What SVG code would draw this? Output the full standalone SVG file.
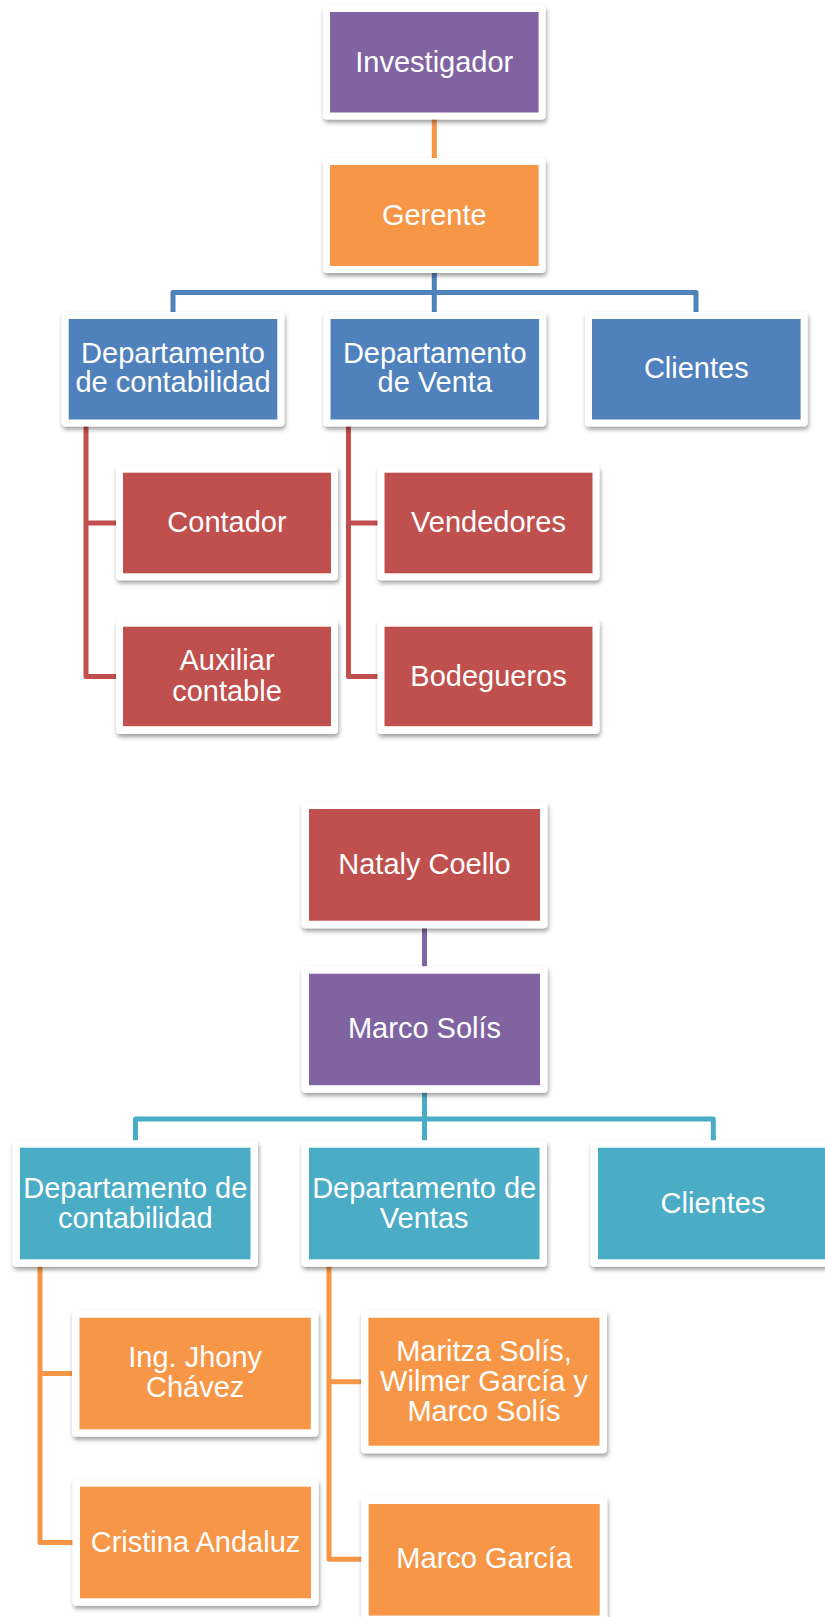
<svg xmlns="http://www.w3.org/2000/svg" width="825" height="1617" viewBox="0 0 825 1617">
  <defs>
    <filter id="sh" x="-10%" y="-10%" width="120%" height="130%">
      <feDropShadow dx="1" dy="3" stdDeviation="2.2" flood-color="#000" flood-opacity="0.38"/>
    </filter>
    <style>
      .frame { fill: #ffffff; filter: url(#sh); }
      .t { font-family: "Liberation Sans", Arial, sans-serif; font-size: 29px; fill: #ffffff; text-anchor: middle; }
      .purple { fill: #8064A2; }
      .orange { fill: #F79646; }
      .blue { fill: #4F81BD; }
      .red { fill: #C0504D; }
      .teal { fill: #4BACC6; }
      .c { fill: none; stroke-width: 5; stroke-linejoin: round; stroke-linecap: butt; }
    </style>
  </defs>
  <rect width="825" height="1617" fill="#ffffff"/>

  <!-- connectors -->
  <g id="connectors">
    <!-- upper chart -->
    <path class="c" stroke="#F79646" d="M434.3 112 V165"/>
    <path class="c" stroke="#4F81BD" d="M434.3 266 V319 M173 319 V292.5 H696 V319"/>
    <path class="c" stroke="#C0504D" d="M86 419 V676.4 H123 M86 523 H123"/>
    <path class="c" stroke="#C0504D" d="M348.5 419 V676.4 H384.5 M348.5 523 H384.5"/>
    <!-- lower chart -->
    <path class="c" stroke="#8064A2" d="M424.5 920 V974"/>
    <path class="c" stroke="#4BACC6" d="M424.5 1085 V1148 M135.5 1148 V1119 H713.3 V1148"/>
    <path class="c" stroke="#F79646" d="M40 1259 V1542.5 H80 M40 1373.5 H80"/>
    <path class="c" stroke="#F79646" d="M329 1259 V1559.3 H369 M329 1381.7 H369"/>
  </g>

  <!-- upper chart nodes -->
  <g id="investigador">
    <rect class="frame" x="323" y="5" width="222.6" height="114.5" rx="4"/>
    <rect class="purple" x="330" y="12" width="208.6" height="100.5"/>
    <text class="t" x="434.3" y="71.5">Investigador</text>
  </g>
  <g id="gerente">
    <rect class="frame" x="323" y="158" width="222.6" height="115" rx="4"/>
    <rect class="orange" x="330" y="165" width="208.6" height="101"/>
    <text class="t" x="434.3" y="224.5">Gerente</text>
  </g>
  <g id="dep-contabilidad">
    <rect class="frame" x="61.7" y="312" width="222.6" height="114.5" rx="4"/>
    <rect class="blue" x="68.7" y="319" width="208.6" height="100.5"/>
    <text class="t" x="173" y="363.3">Departamento</text>
    <text class="t" x="173" y="392.3">de contabilidad</text>
  </g>
  <g id="dep-venta">
    <rect class="frame" x="323.5" y="312" width="222.6" height="114.5" rx="4"/>
    <rect class="blue" x="330.5" y="319" width="208.6" height="100.5"/>
    <text class="t" x="434.8" y="363.3">Departamento</text>
    <text class="t" x="434.8" y="392.3">de Venta</text>
  </g>
  <g id="clientes">
    <rect class="frame" x="585" y="312" width="222.6" height="114.5" rx="4"/>
    <rect class="blue" x="592" y="319" width="208.6" height="100.5"/>
    <text class="t" x="696.3" y="378">Clientes</text>
  </g>
  <g id="contador">
    <rect class="frame" x="116" y="465.7" width="222" height="114.6" rx="4"/>
    <rect class="red" x="123" y="472.7" width="208" height="100.6"/>
    <text class="t" x="227" y="532.3">Contador</text>
  </g>
  <g id="auxiliar">
    <rect class="frame" x="116" y="619.7" width="222" height="114.3" rx="4"/>
    <rect class="red" x="123" y="626.7" width="208" height="99.5"/>
    <text class="t" x="227" y="669.8">Auxiliar</text>
    <text class="t" x="227" y="700.5">contable</text>
  </g>
  <g id="vendedores">
    <rect class="frame" x="377.5" y="465.7" width="222" height="114.6" rx="4"/>
    <rect class="red" x="384.5" y="472.7" width="208" height="100.6"/>
    <text class="t" x="488.5" y="532.3">Vendedores</text>
  </g>
  <g id="bodegueros">
    <rect class="frame" x="377.5" y="619.7" width="222" height="114.3" rx="4"/>
    <rect class="red" x="384.5" y="626.7" width="208" height="99.5"/>
    <text class="t" x="488.5" y="685.5">Bodegueros</text>
  </g>

  <!-- lower chart nodes -->
  <g id="nataly-coello">
    <rect class="frame" x="301.5" y="801.5" width="246" height="126.7" rx="4"/>
    <rect class="red" x="309" y="809" width="231" height="111.7"/>
    <text class="t" x="424.5" y="873.5">Nataly Coello</text>
  </g>
  <g id="marco-solis">
    <rect class="frame" x="301.5" y="966.2" width="246" height="126.5" rx="4"/>
    <rect class="purple" x="309" y="973.7" width="231" height="111.5"/>
    <text class="t" x="424.5" y="1038.3">Marco Solís</text>
  </g>
  <g id="dep-contabilidad-2">
    <rect class="frame" x="12.5" y="1140.2" width="245.5" height="126.6" rx="4"/>
    <rect class="teal" x="20" y="1147.7" width="230.5" height="111.6"/>
    <text class="t" x="135.3" y="1197.5">Departamento de</text>
    <text class="t" x="135.3" y="1227.5">contabilidad</text>
  </g>
  <g id="dep-ventas">
    <rect class="frame" x="301.5" y="1140.2" width="245.5" height="126.6" rx="4"/>
    <rect class="teal" x="309" y="1147.7" width="230.5" height="111.6"/>
    <text class="t" x="424.2" y="1197.5">Departamento de</text>
    <text class="t" x="424.2" y="1227.5">Ventas</text>
  </g>
  <g id="clientes-2">
    <rect class="frame" x="590.5" y="1140.2" width="245.5" height="126.6" rx="4"/>
    <rect class="teal" x="598" y="1147.7" width="230.5" height="111.6"/>
    <text class="t" x="713" y="1212.7">Clientes</text>
  </g>
  <g id="jhony-chavez">
    <rect class="frame" x="72" y="1310.2" width="246.3" height="126.6" rx="4"/>
    <rect class="orange" x="79.5" y="1317.7" width="231.3" height="111.6"/>
    <text class="t" x="195.2" y="1367.3">Ing. Jhony</text>
    <text class="t" x="195.2" y="1396.8">Chávez</text>
  </g>
  <g id="cristina-andaluz">
    <rect class="frame" x="72.5" y="1479.2" width="246" height="126.6" rx="4"/>
    <rect class="orange" x="80" y="1486.7" width="231" height="111.6"/>
    <text class="t" x="195.5" y="1551.7">Cristina  Andaluz</text>
  </g>
  <g id="maritza-wilmer-marco">
    <rect class="frame" x="361" y="1310.2" width="246" height="143" rx="4"/>
    <rect class="orange" x="368.5" y="1317.7" width="231" height="128"/>
    <text class="t" x="484" y="1360.5">Maritza Solís,</text>
    <text class="t" x="484" y="1390.5">Wilmer García y</text>
    <text class="t" x="484" y="1421">Marco Solís</text>
  </g>
  <g id="marco-garcia">
    <rect class="frame" x="361.2" y="1496.5" width="246" height="126.6" rx="4"/>
    <rect class="orange" x="368.7" y="1504" width="231" height="111.6"/>
    <text class="t" x="484.2" y="1568.3">Marco García</text>
  </g>
</svg>
